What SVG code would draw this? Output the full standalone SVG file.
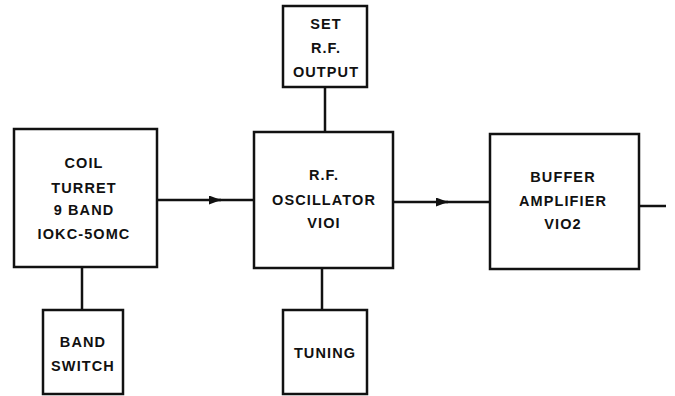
<svg xmlns="http://www.w3.org/2000/svg" width="675" height="396" viewBox="0 0 675 396">
<defs>
<marker id="arr" viewBox="0 0 12 9" refX="12" refY="4.5" markerWidth="12" markerHeight="9" markerUnits="userSpaceOnUse" orient="auto">
<path d="M0,0 L12,4.5 L0,9 Z" fill="#111"/>
</marker>
<style>
.box{fill:#fff;stroke:#111;stroke-width:2.5}
.ln{fill:none;stroke:#111;stroke-width:2.5}
text{font-family:"Liberation Sans",Arial,sans-serif;font-weight:bold;font-size:14.5px;letter-spacing:1.1px;fill:#111;text-anchor:middle}
</style>
</defs>
<rect width="675" height="396" fill="#fff"/>
<g id="connectors">
<line class="ln" x1="157" y1="200" x2="221" y2="200" marker-end="url(#arr)"/>
<line class="ln" x1="216" y1="200" x2="254" y2="200"/>
<line class="ln" x1="393" y1="202" x2="448" y2="202" marker-end="url(#arr)"/>
<line class="ln" x1="443" y1="202" x2="490" y2="202"/>
<line class="ln" x1="639" y1="206" x2="666" y2="206"/>
<line class="ln" x1="325" y1="87" x2="325" y2="132"/>
<line class="ln" x1="82" y1="267" x2="82" y2="310"/>
<line class="ln" x1="322" y1="268" x2="322" y2="310"/>
</g>
<g id="coil-turret">
<rect class="box" x="14" y="129" width="143" height="138"/>
<text x="84" y="168">COIL</text>
<text x="84" y="193">TURRET</text>
<text x="84" y="215">9 BAND</text>
<text x="84" y="239">IOKC-5OMC</text>
</g>
<g id="set-rf-output">
<rect class="box" x="283" y="6" width="84" height="81"/>
<text x="326" y="29">SET</text>
<text x="326" y="53">R.F.</text>
<text x="326" y="77">OUTPUT</text>
</g>
<g id="rf-oscillator">
<rect class="box" x="254" y="132" width="139" height="136"/>
<text x="324" y="180">R.F.</text>
<text x="324" y="205">OSCILLATOR</text>
<text x="324" y="228">VIOI</text>
</g>
<g id="buffer-amplifier">
<rect class="box" x="490" y="134" width="149" height="135"/>
<text x="563" y="182">BUFFER</text>
<text x="563" y="206">AMPLIFIER</text>
<text x="563" y="229">VIO2</text>
</g>
<g id="band-switch">
<rect class="box" x="43" y="310" width="80" height="84"/>
<text x="83" y="347">BAND</text>
<text x="83" y="371">SWITCH</text>
</g>
<g id="tuning">
<rect class="box" x="283" y="310" width="84" height="84"/>
<text x="325" y="358">TUNING</text>
</g>
</svg>
